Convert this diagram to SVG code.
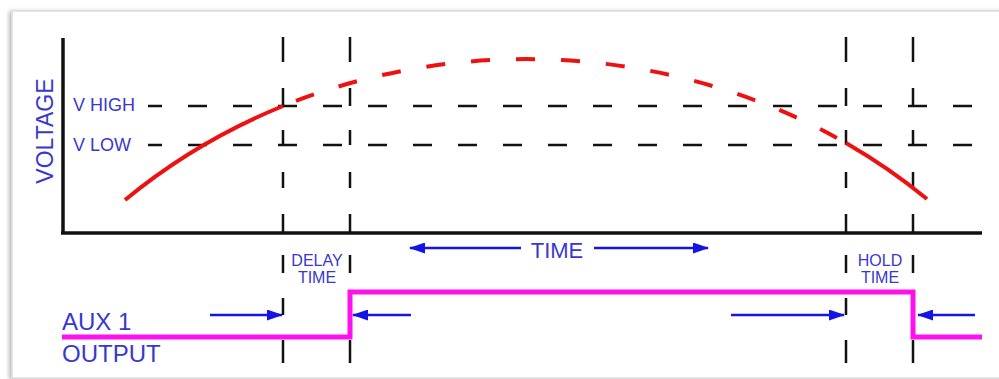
<svg xmlns="http://www.w3.org/2000/svg" width="999" height="379" viewBox="0 0 999 379">
<defs>
<marker id="ah" viewBox="0 0 16 11" refX="15" refY="5.5" markerWidth="16" markerHeight="11" markerUnits="userSpaceOnUse" orient="auto">
<path d="M0,0 L16,5.5 L0,11 Z" fill="#1414e6"/>
</marker>
<filter id="sh" x="-5%" y="-5%" width="110%" height="110%">
<feGaussianBlur in="SourceAlpha" stdDeviation="2"/>
<feOffset dx="-2" dy="1"/>
<feComponentTransfer><feFuncA type="linear" slope="0.3"/></feComponentTransfer>
<feMerge><feMergeNode/><feMergeNode in="SourceGraphic"/></feMerge>
</filter>
</defs>
<style>
.ax{stroke:#111;stroke-width:3.5;fill:none}
.dh{stroke:#111;stroke-width:2.5;fill:none;stroke-dasharray:19 26}
.dv{stroke:#111;stroke-width:2.5;fill:none}
.red{stroke:#ee1111;stroke-width:4;fill:none}
.mag{stroke:#ff10ee;stroke-width:5;fill:none}
.arr{stroke:#1414e6;stroke-width:2.5;fill:none;marker-end:url(#ah)}
.lbl{font-family:"Liberation Sans",Arial,sans-serif;fill:#3838d0}
</style>
<rect x="0" y="0" width="999" height="379" fill="#ffffff"/>
<rect id="frame" x="12" y="11" width="1000" height="367" fill="#ffffff" stroke="#dcdcdc" stroke-width="1.5" filter="url(#sh)"/>

<g id="axes">
<line class="ax" x1="63" y1="38" x2="63" y2="234"/>
<line class="ax" x1="61" y1="233" x2="982" y2="233"/>
</g>

<g id="grid">
<line class="dh" x1="148" y1="106" x2="982" y2="106" style="stroke-dashoffset:5"/>
<line class="dh" x1="148" y1="145" x2="982" y2="145" style="stroke-dashoffset:5"/>
<path class="dv" d="M283,37V62M283,88V106M283,130V145M283,172V188M283,214V233M283,255V273M283,298V315M283,340V363"/>
<path class="dv" d="M350,37V62M350,88V106M350,130V145M350,172V188M350,214V233M350,255V273M350,340V363"/>
<path class="dv" d="M846,37V62M846,88V106M846,130V145M846,172V188M846,214V233M846,255V273M846,298V315M846,340V363"/>
<path class="dv" d="M913,37V62M913,88V106M913,130V145M913,172V188M913,214V233M913,255V273M913,340V363"/>
</g>

<g id="voltage-curve">
<path class="red" d="M125,200 A600,546 0 0 1 283,106"/>
<path class="red" d="M283,106 A600,546 0 0 1 846,143" style="stroke-dasharray:19 26;stroke-dashoffset:31"/>
<path class="red" d="M846,143 A600,546 0 0 1 927,199"/>
</g>

<g id="aux-output">
<polyline class="mag" points="62,337 350,337 350,292 913,292 913,337 982,337"/>
</g>

<g id="connectors">
<line class="arr" x1="210" y1="315" x2="282" y2="315"/>
<line class="arr" x1="411" y1="315" x2="353" y2="315"/>
<line class="arr" x1="521" y1="248" x2="410" y2="248"/>
<line class="arr" x1="594" y1="248" x2="708" y2="248"/>
<line class="arr" x1="731" y1="315" x2="844" y2="315"/>
<line class="arr" x1="975" y1="315" x2="918" y2="315"/>
</g>

<g id="labels">
<text class="lbl" x="53" y="131" font-size="23" text-anchor="middle" transform="rotate(-90 53 131)">VOLTAGE</text>
<text class="lbl" x="73" y="111" font-size="18">V HIGH</text>
<text class="lbl" x="73" y="151" font-size="18">V LOW</text>
<text class="lbl" x="557" y="258" font-size="22" text-anchor="middle">TIME</text>
<text class="lbl" x="317" y="266" font-size="16" text-anchor="middle">DELAY</text>
<text class="lbl" x="317" y="283" font-size="16" text-anchor="middle">TIME</text>
<text class="lbl" x="880" y="266" font-size="16" text-anchor="middle">HOLD</text>
<text class="lbl" x="880" y="283" font-size="16" text-anchor="middle">TIME</text>
<text class="lbl" x="62" y="330" font-size="24">AUX 1</text>
<text class="lbl" x="62" y="362" font-size="24">OUTPUT</text>
</g>
</svg>
